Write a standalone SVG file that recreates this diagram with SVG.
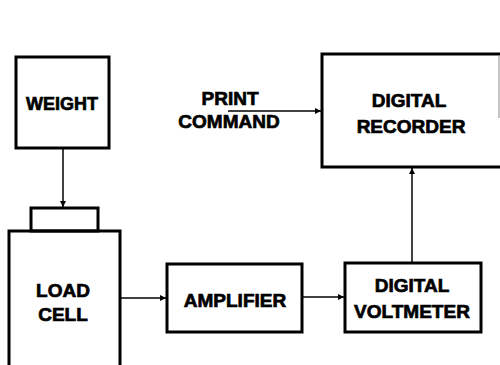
<svg xmlns="http://www.w3.org/2000/svg" width="500" height="365" viewBox="0 0 500 365">
<defs>
<style>
.box{fill:none;stroke:#000;stroke-width:3}
.t{font-family:"Liberation Sans",Arial,sans-serif;font-weight:bold;font-size:19px;fill:#000;stroke:#000;stroke-width:0.7;text-anchor:middle}
.c{stroke:#000;stroke-width:1.5;fill:none}
</style>
<marker id="ah" viewBox="0 0 10 10" refX="10" refY="5" markerWidth="6" markerHeight="6" markerUnits="userSpaceOnUse" orient="auto">
<path d="M0,0 L10,5 L0,10 z" fill="#000"/>
</marker>
</defs>
<rect width="500" height="365" fill="#fff"/>
<g id="weight">
<rect class="box" x="16" y="57" width="93" height="91"/>
<text class="t" x="62" y="110" textLength="72" lengthAdjust="spacingAndGlyphs">WEIGHT</text>
</g>
<g id="load-cell">
<rect class="box" x="31" y="208" width="67" height="23"/>
<rect class="box" x="9" y="231" width="111" height="140"/>
<text class="t" x="63" y="297">LOAD</text>
<text class="t" x="63" y="321">CELL</text>
</g>
<g id="amplifier">
<rect class="box" x="167" y="264" width="135" height="68"/>
<text class="t" x="235" y="307">AMPLIFIER</text>
</g>
<g id="digital-voltmeter">
<rect class="box" x="345" y="263" width="136" height="69"/>
<text class="t" x="412" y="292">DIGITAL</text>
<text class="t" x="412" y="318">VOLTMETER</text>
</g>
<g id="digital-recorder">
<path class="box" d="M503,54 H322 V167 H503"/>
<line x1="499" y1="55" x2="499" y2="118" stroke="#888" stroke-width="1"/>
<text class="t" x="409" y="107">DIGITAL</text>
<text class="t" x="411" y="133">RECORDER</text>
</g>
<g id="print-command">
<text class="t" x="230" y="105">PRINT</text>
<text class="t" x="229" y="128">COMMAND</text>
</g>
<g id="connectors">
<line class="c" x1="63" y1="149" x2="63" y2="207" marker-end="url(#ah)"/>
<line class="c" x1="121" y1="298" x2="166" y2="298" marker-end="url(#ah)"/>
<line class="c" x1="303" y1="297" x2="344" y2="297" marker-end="url(#ah)"/>
<line class="c" x1="412" y1="262" x2="412" y2="168" marker-end="url(#ah)"/>
<line class="c" x1="228" y1="111" x2="321" y2="111" marker-end="url(#ah)"/>
</g>
</svg>
